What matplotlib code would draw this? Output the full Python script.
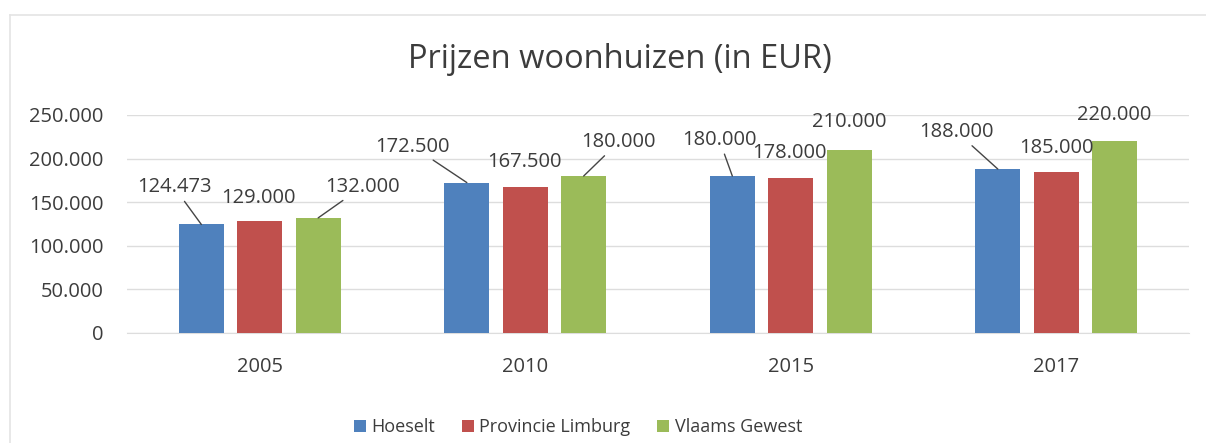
import matplotlib
matplotlib.use("Agg")
import matplotlib.pyplot as plt
from matplotlib.lines import Line2D
import numpy as np

plt.rcParams['font.family'] = ['Open Sans', 'DejaVu Sans']

# data
years = ["2005", "2010", "2015", "2017"]
hoeselt = [124473, 172500, 180000, 188000]
limburg = [129000, 167500, 178000, 185000]
vlaams = [132000, 180000, 210000, 220000]
series_names = ["Hoeselt", "Provincie Limburg", "Vlaams Gewest"]
yticks = [0, 50000, 100000, 150000, 200000, 250000]

colors = ["#4F81BD", "#C0504D", "#9BBB59"]
text_col = "#3C3C3C"

# label placement (pixel offsets from bar top) and whether a leader line is drawn
label_offsets = [
    [(-27, 37), (-54, 36), (-13, 36), (-41, 37)],
    [(-1, 23), (-1, 25), (-1, 25), (0, 24)],
    [(44, 31), (35, 34), (0, 28), (0, 26)],
]
leaders = [
    [True, True, True, True],
    [False, False, False, False],
    [True, True, False, False],
]


def fmt(v):
    return f"{v:,.0f}".replace(",", ".")


W, H = 1206, 443
fig = plt.figure(figsize=(W / 100, H / 100), dpi=100)

# faint chart frame
fig.add_artist(Line2D([10 / W, 1], [1 - 15 / H, 1 - 15 / H], color="#E4E4E4", lw=1.2))
fig.add_artist(Line2D([10 / W, 10 / W], [0, 1 - 15 / H], color="#E4E4E4", lw=1.2))

ax = fig.add_axes([127 / W, 1 - 333 / H, (1189 - 127) / W, (333 - 115) / H])

x = np.arange(len(years))
width = 0.169
step = 0.22
all_series = [hoeselt, limburg, vlaams]

for i, vals in enumerate(all_series):
    pos = x + (i - 1) * step
    ax.bar(pos, vals, width, color=colors[i], label=series_names[i], zorder=3)
    for j, v in enumerate(vals):
        dx, dy = label_offsets[i][j]
        arrow = None
        if leaders[i][j]:
            arrow = dict(arrowstyle="-", color="#454545", lw=1.0, shrinkA=1, shrinkB=0)
        ax.annotate(fmt(v), xy=(pos[j], v), xytext=(dx, dy), textcoords="offset pixels",
                    ha="center", va="center", fontsize=14.5, color=text_col,
                    arrowprops=arrow, zorder=4)

ax.set_xlim(-0.5, len(years) - 0.5)
ax.set_ylim(0, 250000)
ax.set_yticks(yticks)
ax.set_yticklabels([fmt(t) for t in yticks])
ax.set_xticks(x)
ax.set_xticklabels(years)
ax.tick_params(axis="both", length=0, labelsize=14.5, colors=text_col)
ax.tick_params(axis="y", pad=17)
ax.tick_params(axis="x", pad=17)
ax.grid(axis="y", color="#DDDDDD", lw=1, zorder=0)
for s in ["top", "right", "left"]:
    ax.spines[s].set_visible(False)
ax.spines["bottom"].set_color("#DDDDDD")

fig.text(620 / W, 1 - 60 / H, "Prijzen woonhuizen (in EUR)", ha="center", va="center",
         fontsize=23.5, color=text_col)

fig.legend(loc="center", bbox_to_anchor=(578 / W, 1 - 427 / H), ncol=3, frameon=False,
           handlelength=0.65, handleheight=0.65, handletextpad=0.3, columnspacing=1.5,
           fontsize=13, labelcolor=text_col)

fig.savefig("out.png", dpi=100)
